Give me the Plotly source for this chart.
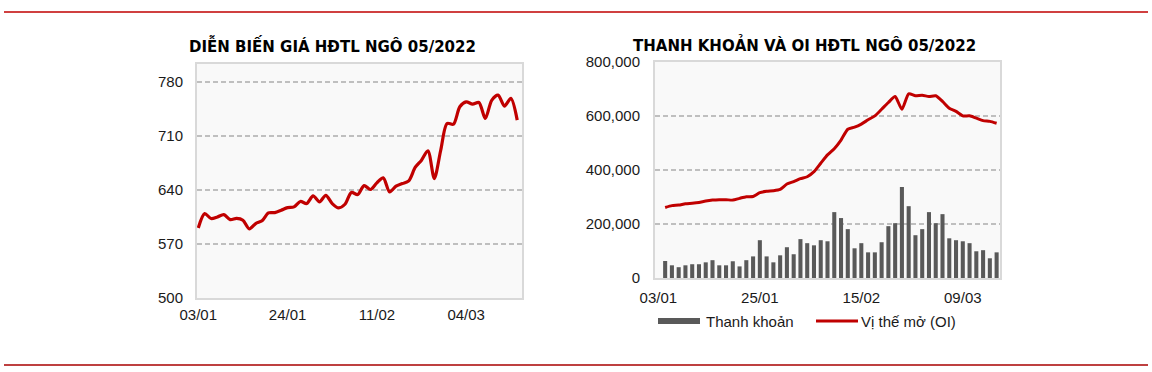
import plotly.graph_objects as go

# ---------------- data ----------------
dates = ["03/01", "04/01", "05/01", "06/01", "07/01", "10/01", "11/01", "12/01", "13/01", "14/01",
         "18/01", "19/01", "20/01", "21/01", "24/01", "25/01", "26/01", "27/01", "28/01", "31/01",
         "01/02", "02/02", "03/02", "04/02", "07/02", "08/02", "09/02", "10/02", "11/02", "14/02",
         "15/02", "16/02", "17/02", "18/02", "22/02", "23/02", "24/02", "25/02", "28/02",
         "01/03", "02/03", "03/03", "04/03", "07/03", "08/03", "09/03", "10/03", "11/03",
         "14/03", "15/03", "16/03"]

price = [590.7, 609.3, 602.9, 605.0, 608.0, 601.5, 603.0, 600.7, 589.5, 596.4,
         600.0, 610.2, 610.6, 613.6, 617.0, 618.0, 625.0, 622.3, 632.3, 624.5,
         633.0, 622.3, 616.7, 621.4, 636.6, 634.0, 645.6, 640.5, 649.1, 655.6,
         637.4, 644.8, 648.2, 651.7, 669.0, 678.5, 690.6, 654.7, 691.0, 726.0,
         725.0, 747.6, 754.0, 751.0, 753.2, 732.5, 756.0, 762.7, 748.5, 758.4,
         730.3]

volume = [None,
          63000, 47000, 40000, 47000, 51000, 51000, 58000, 66000, 47000, 47000,
          62000, 43000, 66000, 80000, 140000, 80000, 58000, 84000, 114000, 88000,
          144000, 129000, 121000, 140000, 136000, 244000, 222000, 181000, 110000, 129000,
          95000, 95000, 132500, 192000, 203000, 337000, 266000, 158500, 181000, 244000,
          203000, 236500, 147000, 140000, 136000, 129000, 99000, 103000, 73000, 95000]

open_interest = [None,
                 261000, 268000, 270000, 275000, 277000, 280000, 285000, 288500, 290000, 290000,
                 288500, 295000, 301000, 302000, 316000, 321000, 323000, 328000, 348000, 357000,
                 368000, 375000, 394000, 425000, 456000, 479000, 511000, 551000, 558500, 570000,
                 586000, 600600, 625000, 650000, 672000, 625000, 682000, 675000, 677000, 672000,
                 675000, 654000, 629000, 617000, 600600, 600600, 592000, 583000, 580000, 573000]

left_ticks = ["03/01", "24/01", "11/02", "04/03"]
right_ticks = ["03/01", "25/01", "15/02", "09/03"]
price_ticks = [500, 570, 640, 710, 780]
oi_ticks = [0, 200000, 400000, 600000, 800000]

left_title = "DIỄN BIẾN GIÁ HĐTL NGÔ 05/2022"
right_title = "THANH KHOẢN VÀ OI HĐTL NGÔ 05/2022"
legend_bar = "Thanh khoản"
legend_line = "Vị thế mở (OI)"

# ---------------- style ----------------
W, H = 1152, 372
RED = "#C00000"
BAR = "#595959"
GRID = "#BFBFBF"
BORDER = "#D9D9D9"
PLOTBG = "#F9F9F9"
TXT = "#1a1a1a"
tick_font = dict(family="Liberation Sans, Arial, sans-serif", size=15, color=TXT)
title_font = dict(family="DejaVu Sans, sans-serif", size=15, color="#000000", weight="bold")


def px(x):
    return x / W


def py(y):
    return 1 - y / H


fig = go.Figure()

fig.add_trace(go.Scatter(x=dates, y=price, xaxis="x", yaxis="y", mode="lines",
                         line=dict(color=RED, width=3.2, shape="spline", smoothing=0.8),
                         showlegend=False))
fig.add_trace(go.Bar(x=dates, y=volume, xaxis="x2", yaxis="y2", marker_color=BAR,
                     marker_line_width=0, showlegend=False))
fig.add_trace(go.Scatter(x=dates, y=open_interest, xaxis="x2", yaxis="y2", mode="lines",
                         line=dict(color=RED, width=3, shape="spline", smoothing=0.6),
                         connectgaps=False, showlegend=False))

common_x = dict(type="category", showline=True, mirror=True, linecolor=BORDER, linewidth=2,
                showgrid=False, zeroline=False, ticks="", tickfont=tick_font,
                fixedrange=True, automargin=False)
common_y = dict(showline=True, mirror=True, linecolor=BORDER, linewidth=2,
                showgrid=True, gridcolor=GRID, gridwidth=1.5, griddash="5px,3px",
                zeroline=False, ticks="", tickfont=tick_font, fixedrange=True, automargin=False)

fig.update_layout(
    width=W, height=H,
    margin=dict(l=0, r=0, t=0, b=0, autoexpand=False),
    paper_bgcolor="white",
    plot_bgcolor=PLOTBG,
    bargap=0.4,
    xaxis=dict(common_x, domain=[px(197), px(522)], anchor="y",
               categoryorder="array", categoryarray=dates, ticklabelstandoff=2,
               range=[-0.2, 50.75], tickvals=left_ticks, ticktext=left_ticks),
    yaxis=dict(common_y, domain=[py(298), py(64)], anchor="x",
               range=[500, 803], tickvals=price_ticks, ticklabelstandoff=9),
    xaxis2=dict(common_x, domain=[px(655), px(1000)], anchor="y2",
                categoryorder="array", categoryarray=dates, ticklabelstandoff=5,
                range=[-0.5, 50.5], tickvals=right_ticks, ticktext=right_ticks),
    yaxis2=dict(common_y, domain=[py(278), py(62)], anchor="x2",
                range=[0, 800000], tickvals=oi_ticks, tickformat=",d", ticklabelstandoff=10),
)

shapes = [
    dict(type="line", xref="paper", yref="paper", x0=px(4), x1=px(1148), y0=py(12), y1=py(12),
         line=dict(color=RED, width=1.5)),
    dict(type="line", xref="paper", yref="paper", x0=px(4), x1=px(1148), y0=py(365), y1=py(365),
         line=dict(color="#A80000", width=1.5)),
    # legend symbols
    dict(type="rect", xref="paper", yref="paper", x0=px(658), x1=px(700), y0=py(324), y1=py(318),
         fillcolor=BAR, line=dict(width=0)),
    dict(type="line", xref="paper", yref="paper", x0=px(816), x1=px(858), y0=py(321), y1=py(321),
         line=dict(color=RED, width=3)),
]
annotations = [
    dict(text=left_title, xref="paper", yref="paper", x=px(332), y=py(45), xanchor="center",
         yanchor="middle", showarrow=False, font=title_font),
    dict(text=right_title, xref="paper", yref="paper", x=px(804), y=py(44), xanchor="center",
         yanchor="middle", showarrow=False, font=title_font),
    dict(text=legend_bar, xref="paper", yref="paper", x=px(704), y=py(321), xanchor="left",
         yanchor="middle", showarrow=False, font=tick_font),
    dict(text=legend_line, xref="paper", yref="paper", x=px(859), y=py(321), xanchor="left",
         yanchor="middle", showarrow=False, font=tick_font),
]
fig.update_layout(shapes=shapes, annotations=annotations)

fig.write_html("out.html", config={"displayModeBar": False},
               post_script="document.body.style.margin='0px';"
                           "document.body.style.overflow='hidden';"
                           "document.documentElement.style.overflow='hidden';")
